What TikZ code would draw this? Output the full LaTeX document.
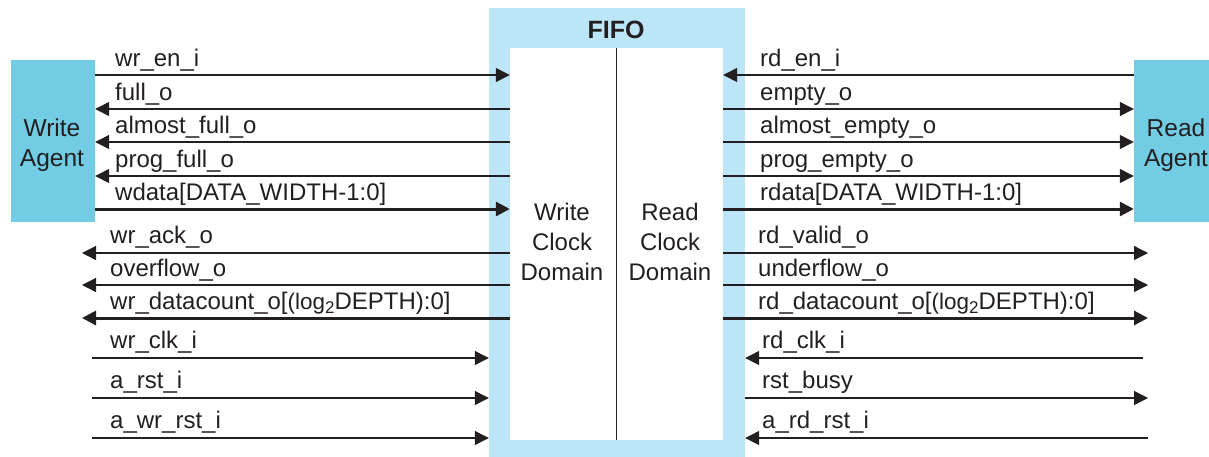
\documentclass[tikz,border=0pt]{standalone}
\usepackage{fontspec}
\setmainfont{Liberation Sans}
\usetikzlibrary{arrows.meta}
\definecolor{fifoblue}{HTML}{BDE5F8}
\definecolor{agentblue}{HTML}{72CCE4}
\definecolor{ink}{HTML}{231F20}
\newcommand{\logtwo}{{\fontsize{22.5}{26}\selectfont(log\raisebox{-0.35ex}{\fontsize{17}{17}\selectfont 2}}}
\begin{document}
\begin{tikzpicture}[x=1pt,y=-1pt,
  lbl/.style={anchor=base west,inner sep=0pt,font=\fontsize{24}{28}\selectfont,text=ink},
  sig/.style={draw=ink,line width=1.3pt,-{Triangle[length=14pt,width=14pt]}},
  bus/.style={sig,line width=3pt,-{Triangle[length=14pt,width=14pt]}},
  blk/.style={rectangle,inner sep=0pt,draw=none},
  agenttxt/.style={align=center,font=\fontsize{24.5}{29.5}\selectfont,text=ink},
  domtxt/.style={align=center,font=\fontsize{24}{30}\selectfont,text=ink}]
\useasboundingbox (0,0) rectangle (1209,456);
% blocks
\node[blk,fill=fifoblue,minimum width=256pt,minimum height=460pt] (fifo) at (617,238) {};
\node[blk,fill=white,minimum width=213pt,minimum height=392pt] (core) at (616.5,244) {};
\draw[ink,line width=1.2pt] (core.north) -- (core.south);
\node[anchor=center,font=\bfseries\fontsize{25}{28}\selectfont,text=ink] (title) at (616,30) {FIFO};
\node[blk,fill=agentblue,minimum width=84pt,minimum height=162pt] (wa) at (53,141) {};
\node[agenttxt] (watxt) at (52,145) {Write\\Agent};
\node[blk,fill=agentblue,minimum width=84pt,minimum height=162pt] (ra) at (1176,141) {};
\node[agenttxt] (ratxt) at (1176,145) {Read\\Agent};
\node[domtxt] (wcd) at (562,242) {Write\\Clock\\Domain};
\node[domtxt] (rcd) at (670,242) {Read\\Clock\\Domain};
% row coordinates
\foreach \n/\y in {a/75,b/109,c/142,d/176,e/209,f/253,g/285,h/318,i/358,j/398,k/438}
  \coordinate (y\n) at (0,\y);
\coordinate (lm) at (82,0);
\coordinate (lb) at (92,0);
\coordinate (rm) at (1148,0);
\coordinate (rc) at (1143,0);
% left top
\draw[sig] (wa.east |- ya) -- (core.west |- ya);
\draw[sig] (core.west |- yb) -- (wa.east |- yb);
\draw[sig] (core.west |- yc) -- (wa.east |- yc);
\draw[sig] (core.west |- yd) -- (wa.east |- yd);
\draw[bus] (wa.east |- ye) -- (core.west |- ye);
% left middle
\draw[sig] (core.west |- yf) -- (lm |- yf);
\draw[sig] (core.west |- yg) -- (lm |- yg);
\draw[bus] (core.west |- yh) -- (lm |- yh);
% left bottom
\draw[sig] (lb |- yi) -- (fifo.west |- yi);
\draw[sig] (lb |- yj) -- (fifo.west |- yj);
\draw[sig] (lb |- yk) -- (fifo.west |- yk);
% right top
\draw[sig] (ra.west |- ya) -- (core.east |- ya);
\draw[sig] (core.east |- yb) -- (ra.west |- yb);
\draw[sig] (core.east |- yc) -- (ra.west |- yc);
\draw[sig] (core.east |- yd) -- (ra.west |- yd);
\draw[bus] (core.east |- ye) -- (ra.west |- ye);
% right middle
\draw[sig] (core.east |- yf) -- (rm |- yf);
\draw[sig] (core.east |- yg) -- (rm |- yg);
\draw[bus] (core.east |- yh) -- (rm |- yh);
% right bottom
\draw[sig] (rc |- yi) -- (fifo.east |- yi);
\draw[sig] (fifo.east |- yj) -- (rm |- yj);
\draw[sig] (rm |- yk) -- (fifo.east |- yk);
% labels left
\node[lbl] (l1) at (115,66) {wr\_en\_i};
\node[lbl] (l2) at (115,100) {full\_o};
\node[lbl] (l3) at (115,133) {almost\_full\_o};
\node[lbl] (l4) at (115,167) {prog\_full\_o};
\node[lbl] (l5) at (115,200) {wdata[DATA\_WIDTH-1:0]};
\node[lbl] (l6) at (110,243) {wr\_ack\_o};
\node[lbl] (l7) at (110,276) {overflow\_o};
\node[lbl] (l8) at (110,309) {wr\_datacount\_o[\logtwo DEPTH):0]};
\node[lbl] (l9) at (110,348) {wr\_clk\_i};
\node[lbl] (l10) at (110,388) {a\_rst\_i};
\node[lbl] (l11) at (110,428) {a\_wr\_rst\_i};
% labels right
\node[lbl] (r1) at (760,66) {rd\_en\_i};
\node[lbl] (r2) at (760,100) {empty\_o};
\node[lbl] (r3) at (760,133) {almost\_empty\_o};
\node[lbl] (r4) at (760,167) {prog\_empty\_o};
\node[lbl] (r5) at (760,200) {rdata[DATA\_WIDTH-1:0]};
\node[lbl] (r6) at (758,243) {rd\_valid\_o};
\node[lbl] (r7) at (758,276) {underflow\_o};
\node[lbl] (r8) at (758,309) {rd\_datacount\_o[\logtwo DEPTH):0]};
\node[lbl] (r9) at (762,348) {rd\_clk\_i};
\node[lbl] (r10) at (762,388) {rst\_busy};
\node[lbl] (r11) at (762,428) {a\_rd\_rst\_i};
\end{tikzpicture}
\end{document}
